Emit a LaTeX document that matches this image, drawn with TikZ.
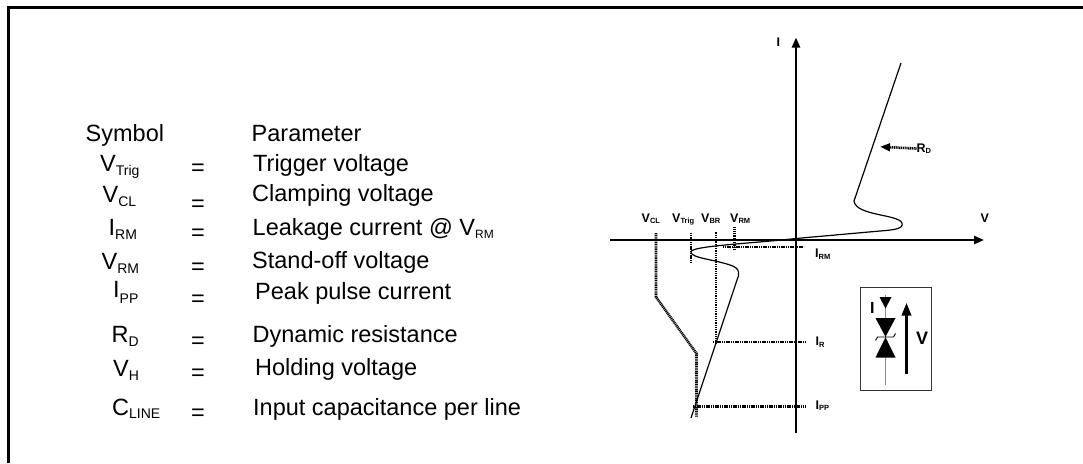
\documentclass[tikz,border=0pt]{standalone}
\usepackage{fontspec}
\setmainfont{Liberation Sans}
\usetikzlibrary{arrows.meta}
\newcommand{\tsub}[1]{\raisebox{-3.5pt}{\fontsize{14}{14}\selectfont #1}}
\newcommand{\isub}[1]{\raisebox{-3pt}{\fontsize{12}{12}\selectfont #1}}
\newcommand{\gsub}[1]{\raisebox{-1.8pt}{\fontsize{7.5}{7.5}\selectfont\bfseries #1}}
\begin{document}
\begin{tikzpicture}[x=1pt,y=-1pt,
  txt/.style={anchor=base west, inner sep=0pt, font=\fontsize{23.5}{28}\selectfont},
  eqs/.style={anchor=base, inner sep=0pt, font=\fontsize{23.5}{28}\selectfont},
  glab/.style={anchor=base west, inner sep=0pt, font=\fontsize{12.5}{14}\selectfont\bfseries},
  axis/.style={line width=2.5pt, -{Triangle[length=10pt,width=8pt]}},
  dots/.style={line width=2.6pt, dash pattern=on 1.1pt off 0.7pt},
  curve/.style={line width=1.2pt, line join=round},
  frame/.style={line width=3pt}]
\useasboundingbox (0,0) rectangle (1083,463);
% frame
\draw[frame] (8.3,463) -- (8.3,7.5) -- (1083,7.5);
% table
\node[txt] (hs) at (85.5,141) {Symbol};
\node[txt] (hp) at (251.5,141) {Parameter};
\node[txt] (s1) at (100,171.5) {V\tsub{Trig}};
\node[eqs] (e1) at (198,175) {=};
\node[txt] (p1) at (253,171) {Trigger voltage};
\node[txt] (s2) at (102.5,202.5) {V\tsub{CL}};
\node[eqs] (e2) at (198,211.5) {=};
\node[txt] (p2) at (252,201.5) {Clamping voltage};
\node[txt] (s3) at (108.5,235.5) {I\tsub{RM}};
\node[eqs] (e3) at (198,240) {=};
\node[txt] (p3) at (252.5,235) {Leakage current @ V\isub{RM}};
\node[txt] (s4) at (101.5,269.5) {V\tsub{RM}};
\node[eqs] (e4) at (198,274.5) {=};
\node[txt] (p4) at (252,268.5) {Stand-off voltage};
\node[txt] (s5) at (113,297) {I\raisebox{-6pt}{\fontsize{14}{14}\selectfont PP}};
\node[eqs] (e5) at (198,306) {=};
\node[txt] (p5) at (255,299) {Peak pulse current};
\node[txt] (s6) at (111.5,342.5) {R\tsub{D}};
\node[eqs] (e6) at (198,348) {=};
\node[txt] (p6) at (252.5,342.5) {Dynamic resistance};
\node[txt] (s7) at (113,376.5) {V\tsub{H}};
\node[eqs] (e7) at (198,380) {=};
\node[txt] (p7) at (255,375) {Holding voltage};
\node[txt] (s8) at (112,415) {C\tsub{LINE}};
\node[eqs] (e8) at (198,420) {=};
\node[txt] (p8) at (253,415) {Input capacitance per line};
% axes
\coordinate (vo) at (610,240);
\coordinate (vtip) at (984,240);
\coordinate (ibot) at (796,433);
\coordinate (itip) at (796,37.5);
\draw[axis] (vo) -- (vtip);
\draw[axis] (ibot) -- (itip);
\node[glab] (il) at (776.5,46) {I};
\node[glab] (vl) at (980.5,222) {V};
% dotted guide lines
\coordinate (cl1) at (656,233);
\coordinate (cl2) at (656,297);
\coordinate (cl3) at (696.5,353.5);
\coordinate (cl4) at (696.5,416.5);
\draw[dots] (cl1) -- (cl2) -- (cl3) -- (cl4);
\coordinate (tr1) at (691,233);
\coordinate (tr2) at (691,263);
\draw[dots] (tr1) -- (tr2);
\coordinate (br1) at (716,231.5);
\coordinate (br2) at (716,343.5);
\draw[dots] (br1) -- (br2);
\coordinate (rm1) at (734.3,227.3);
\coordinate (rm2) at (734.3,250);
\draw[dots] (rm1) -- (rm2);
\coordinate (irm1) at (723,246.8);
\coordinate (irm2) at (804,246.8);
\draw[dots] (irm1) -- (irm2);
\coordinate (ir1) at (713,342);
\coordinate (ir2) at (806,342);
\draw[dots] (ir1) -- (ir2);
\coordinate (ipp1) at (693,406.7);
\coordinate (ipp2) at (806,406.7);
\draw[dots] (ipp1) -- (ipp2);
% graph labels
\node[glab] (lcl) at (641.5,222) {V\gsub{CL}};
\node[glab] (ltr) at (672,222) {V\gsub{Trig}};
\node[glab] (lbr) at (701,222) {V\gsub{BR}};
\node[glab] (lrm) at (730,222) {V\gsub{RM}};
\node[glab] (lirm) at (815,257.5) {I\gsub{RM}};
\node[glab] (lir) at (815.5,345.5) {I\gsub{R}};
\node[glab] (lipp) at (815.5,409) {I\gsub{PP}};
% characteristic curve
\draw[curve] (901,63) -- (854,201)
  .. controls (856,216) and (898,214) .. (902,223)
  .. controls (904,229) and (893,230) .. (880,231)
  -- (796,238.5)
  .. controls (745,244) and (691,246) .. (691,252)
  .. controls (691,258) and (712,259) .. (730,265)
  .. controls (740,268) and (740,274) .. (737,280)
  -- (691,418);
% R_D pointer
\node[glab] (lrd) at (916.5,152) {R\gsub{D}};
\coordinate (rdtip) at (880,146.7);
\draw[dots, -{Triangle[length=10pt,width=7.5pt]}] (lrd.west) -- (rdtip);
% diode symbol box
\draw[line width=1pt, black!80] (860.5,287) rectangle (931.5,390);
\draw[line width=1.2pt, black!45] (885.5,295) -- (885.5,385);
\fill (879.5,297) -- (891.5,297) -- (885.5,308.5) -- cycle;
\fill (875.5,318) -- (895.5,318) -- (885.5,336.8) -- cycle;
\fill (875.5,357.5) -- (895.5,357.5) -- (885.5,337.2) -- cycle;
\draw[line width=0.9pt] (875.5,340.5) -- (877.5,337) -- (893.5,337) -- (895.5,333.5);
\coordinate (vab) at (906.5,374);
\coordinate (vat) at (906.5,302.5);
\draw[line width=3.3pt, -{Triangle[length=13pt,width=9pt]}] (vab) -- (vat);
\node[anchor=base west, inner sep=0pt, font=\fontsize{16}{18}\selectfont\bfseries] (di) at (869.8,313.3) {I};
\node[anchor=base west, inner sep=0pt, font=\fontsize{18}{20}\selectfont\bfseries] (dv) at (915.8,344) {V};
\end{tikzpicture}
\end{document}
